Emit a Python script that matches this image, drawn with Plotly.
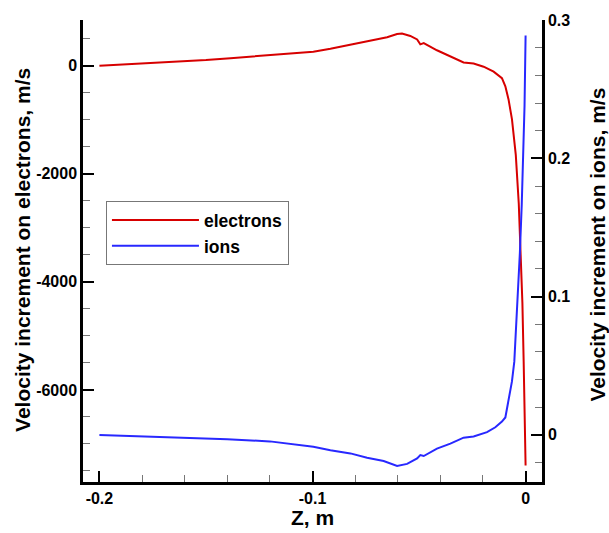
import plotly.graph_objects as go

# Velocity increment of electrons along the axis (left axis, m/s)
z_electrons = [-0.2000, -0.1800, -0.1620, -0.1500, -0.1385, -0.1250, -0.1151, -0.1050,
               -0.0996, -0.0916, -0.0822, -0.0729, -0.0682, -0.0650, -0.0603, -0.0580,
               -0.0541, -0.0509, -0.0494, -0.0478, -0.0416, -0.0369, -0.0322, -0.0291,
               -0.0244, -0.0197, -0.0150, -0.0111, -0.0095, -0.0080, -0.0064, -0.0046,
               -0.0032, -0.0022, -0.0015, -0.0009, -0.0005, 0.0000]
v_electrons = [0, 40, 73, 105, 140, 180, 213, 245,
               260, 315, 395, 468, 510, 528, 588, 595,
               551, 486, 395, 419, 286, 206, 122, 60,
               42, -18, -109, -231, -382, -624, -988, -1650,
               -2550, -3480, -4390, -5480, -6390, -7400]

# Velocity increment of ions along the axis (right axis, m/s)
z_ions = [-0.2000, -0.1800, -0.1600, -0.1400, -0.1200, -0.0996, -0.0916, -0.0822,
          -0.0744, -0.0666, -0.0603, -0.0556, -0.0509, -0.0494, -0.0478, -0.0416,
          -0.0353, -0.0291, -0.0244, -0.0181, -0.0142, -0.0111, -0.0095, -0.0080,
          -0.0064, -0.0053, -0.0037, -0.0027, -0.0018, -0.0011, -0.0005, 0.0000]
v_ions = [-0.0001, -0.0011, -0.0021, -0.0033, -0.0048, -0.0087, -0.0112, -0.0135,
          -0.0167, -0.0190, -0.0226, -0.0211, -0.0171, -0.0147, -0.0154, -0.0100,
          -0.0064, -0.0021, -0.0012, 0.0019, 0.0054, 0.0095, 0.0125, 0.0244,
          0.0386, 0.0529, 0.0956, 0.1312, 0.1668, 0.2023, 0.2379, 0.2890]

x_tick_vals = [-0.2, -0.1, 0.0]
x_tick_text = ["-0.2", "-0.1", "0"]
y_tick_vals = [-6000, -4000, -2000, 0]
y_tick_text = ["-6000", "-4000", "-2000", "0"]
y2_tick_vals = [0.0, 0.1, 0.2, 0.3]
y2_tick_text = ["0", "0.1", "0.2", "0.3"]

FONT = "Liberation Sans, Arial, Helvetica, sans-serif"
tick_font = dict(family=FONT, size=16, color="black", weight="bold")
title_font = dict(family=FONT, size=21, color="black", weight="bold")

fig = go.Figure()
fig.add_trace(go.Scatter(x=z_electrons, y=v_electrons, mode="lines", name="electrons",
                         line=dict(color="rgb(215,0,0)", width=2), yaxis="y"))
fig.add_trace(go.Scatter(x=z_ions, y=v_ions, mode="lines", name="ions",
                         line=dict(color="rgb(40,40,255)", width=2), yaxis="y2"))


def axis_style(vals, text, minor_dtick):
    return dict(
        tickmode="array", tickvals=vals, ticktext=text,
        ticks="inside", ticklen=11, tickwidth=2, tickcolor="black",
        showline=True, linewidth=2.5, linecolor="black", mirror=False,
        showgrid=False, zeroline=False, tickfont=tick_font,
        minor=dict(tickmode="linear", tick0=0, dtick=minor_dtick, ticks="inside",
                   ticklen=7, tickwidth=1, tickcolor="#777777", showgrid=False),
    )


fig.update_layout(
    width=609, height=533,
    margin=dict(l=83, r=67, t=12, b=51),
    paper_bgcolor="white", plot_bgcolor="white",
    xaxis=dict(range=[-0.2077, 0.0077], **axis_style(x_tick_vals, x_tick_text, 0.02)),
    yaxis=dict(range=[-7704, 846], **axis_style(y_tick_vals, y_tick_text, 500)),
    yaxis2=dict(range=[-0.0342, 0.3002], overlaying="y", side="right", anchor="x",
                **axis_style(y2_tick_vals, y2_tick_text, 0.02)),
    showlegend=True,
    legend=dict(x=0.05, y=0.608, xanchor="left", yanchor="top",
                bgcolor="white", bordercolor="#777777", borderwidth=1,
                itemwidth=87, font=dict(family=FONT, size=17.5, color="black", weight="bold")),
    annotations=[
        dict(text="Z, m", xref="paper", yref="paper", x=0.5, y=-0.076,
             xanchor="center", yanchor="middle", showarrow=False, font=title_font),
        dict(text="Velocity increment on electrons, m/s", xref="paper", yref="paper",
             x=-0.1322, y=0.503, xanchor="center", yanchor="middle", textangle=-90,
             showarrow=False, font=title_font),
        dict(text="Velocity increment on ions, m/s", xref="paper", yref="paper",
             x=1.1205, y=0.5145, xanchor="center", yanchor="middle", textangle=-90,
             showarrow=False, font=title_font),
    ],
)

fig.write_html("out.html")
